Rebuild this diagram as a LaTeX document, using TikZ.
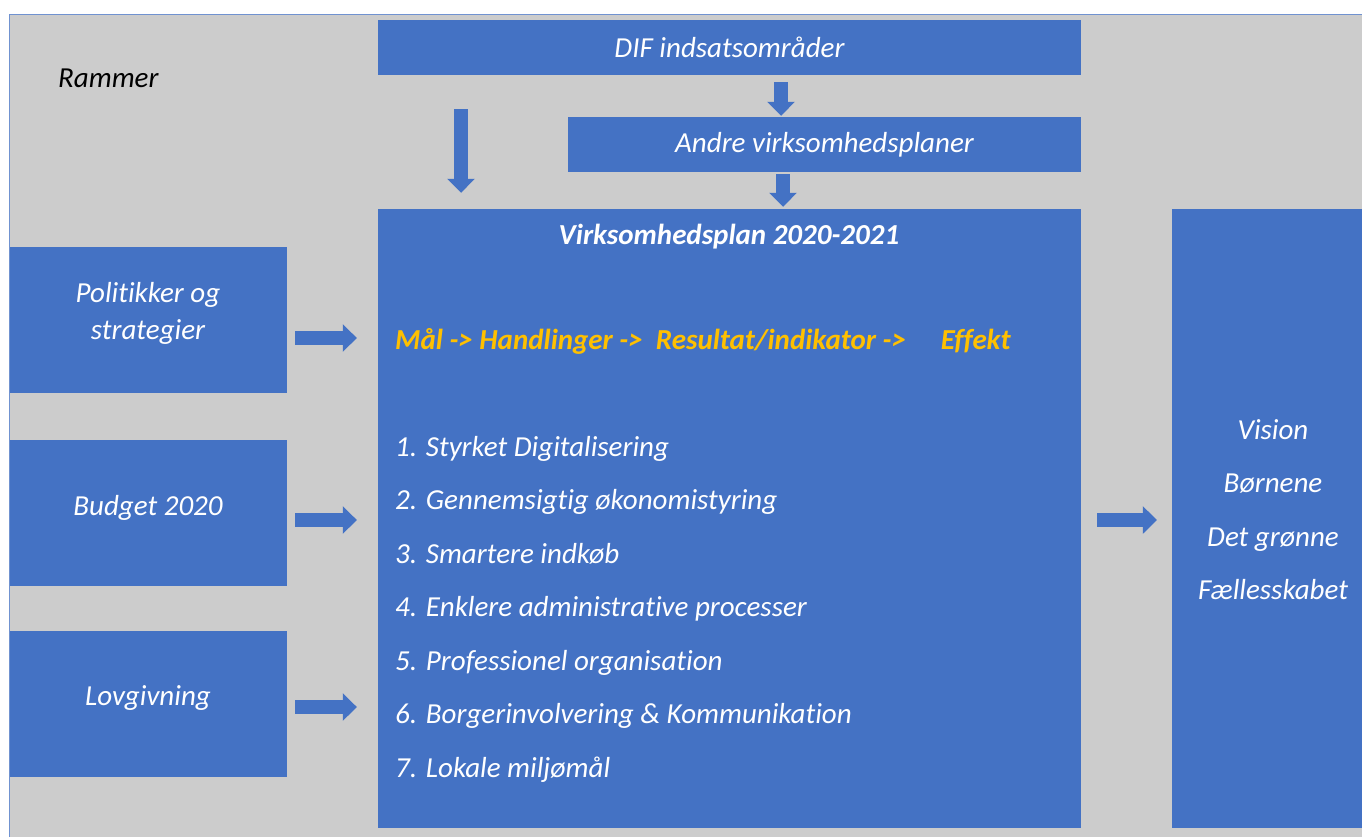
\documentclass[tikz,border=0pt]{standalone}
\usepackage{fontspec}
\setmainfont{Carlito}[Ligatures=NoCommon]
\usetikzlibrary{arrows.meta}
\definecolor{boxblue}{HTML}{4472C4}
\definecolor{framegray}{HTML}{CCCCCC}
\definecolor{goalyellow}{HTML}{FFC000}
\definecolor{frameline}{HTML}{7092D0}

\begin{document}
\begin{tikzpicture}[x=1pt,y=-1pt]
    \tikzstyle{box}=[rectangle, fill=boxblue, inner sep=0pt, text=white, font=\fontsize{29}{37}\selectfont\itshape, align=center]
    \tikzstyle{item}=[anchor=west, inner sep=0pt, text height=20pt, text depth=6pt, text=white, font=\fontsize{29}{35}\selectfont\itshape]
    \tikzstyle{label}=[inner sep=0pt, text=white, align=center, font=\fontsize{29}{37}\selectfont\itshape]
    \tikzstyle{blockarrow}=[draw=boxblue, line width=13.5pt, -{Triangle[width=27pt,length=14pt]}]

    \useasboundingbox (0,0) rectangle (1362,837);
    \fill[framegray] (9,15) rectangle (1362,837);
    \draw[frameline, line width=1pt] (9,837) -- (9,15) -- (1362,15);

    \node[item, text=black] (rammer) at (58,81) {Rammer};

    % top boxes
    \node[box, minimum width=703pt, minimum height=55pt] (dif) at (729.5,47.5) {DIF indsatsområder};
    \node[box, minimum width=513pt, minimum height=55pt] (andre) at (824.5,144.5) {Andre virksomhedsplaner};

    % main plan
    \node[box, minimum width=703pt, minimum height=619pt] (plan) at (729.5,518.5) {};
    \node[label, font=\fontsize{29}{35}\selectfont\bfseries\itshape] (plantitle) at (729,237) {Virksomhedsplan 2020-2021};
    \node[item, text=goalyellow, font=\fontsize{29}{35}\selectfont\bfseries\itshape] (chain) at (395,342)
        {Mål -> Handlinger ->\ \ Resultat/indikator ->\hspace{1.2em}Effekt};
    \foreach \n/\t [count=\i] in {1/Styrket Digitalisering, 2/Gennemsigtig økonomistyring, 3/Smartere indkøb,
        4/Enklere administrative processer, 5/Professionel organisation, 6/Borgerinvolvering \& Kommunikation,
        7/Lokale miljømål}
        \node[item] (goal\n) at (395,{449+53.5*(\i-1)}) {\n. \t};

    % left boxes
    \node[box, minimum width=277pt, minimum height=146pt] (pol) at (148.5,320) {};
    \node[box, minimum width=277pt, minimum height=146pt] (budget) at (148.5,513) {};
    \node[box, minimum width=277pt, minimum height=146pt] (lov) at (148.5,704) {};
    \node[label] (poltext) at (148,313) {Politikker og\\strategier};
    \node[label] (budgettext) at (148,508) {Budget 2020};
    \node[label] (lovtext) at (148,698) {Lovgivning};

    % right box
    \node[box, minimum width=190pt, minimum height=619pt] (vision) at (1267,518.5) {};
    \foreach \t [count=\i] in {Vision, Børnene, Det grønne, Fællesskabet}
        \node[label, text height=20pt, text depth=6pt] (vis\i) at (1273,{432+53.5*(\i-1)}) {\t};

    % arrows
    \coordinate (a1) at (0,338);
    \coordinate (a2) at (0,520);
    \coordinate (a3) at (0,707);
    \draw[blockarrow, shorten <=8pt, shorten >=21pt] (pol.east |- a1) -- (plan.west |- a1);
    \draw[blockarrow, shorten <=8pt, shorten >=21pt] (budget.east |- a2) -- (plan.west |- a2);
    \draw[blockarrow, shorten <=8pt, shorten >=21pt] (lov.east |- a3) -- (plan.west |- a3);
    \draw[blockarrow, shorten <=16pt, shorten >=15pt] (plan.east |- a2) -- (vision.west |- a2);
    \draw[blockarrow, shorten <=7pt, shorten >=1pt] (dif.south -| 781,0) -- (andre.north -| 781,0);
    \draw[blockarrow, shorten <=2pt, shorten >=2pt] (andre.south -| 783,0) -- (plan.north -| 783,0);
    \draw[blockarrow, shorten <=34pt, shorten >=16pt] (dif.south -| 461,0) -- (plan.north -| 461,0);
\end{tikzpicture}
\end{document}
